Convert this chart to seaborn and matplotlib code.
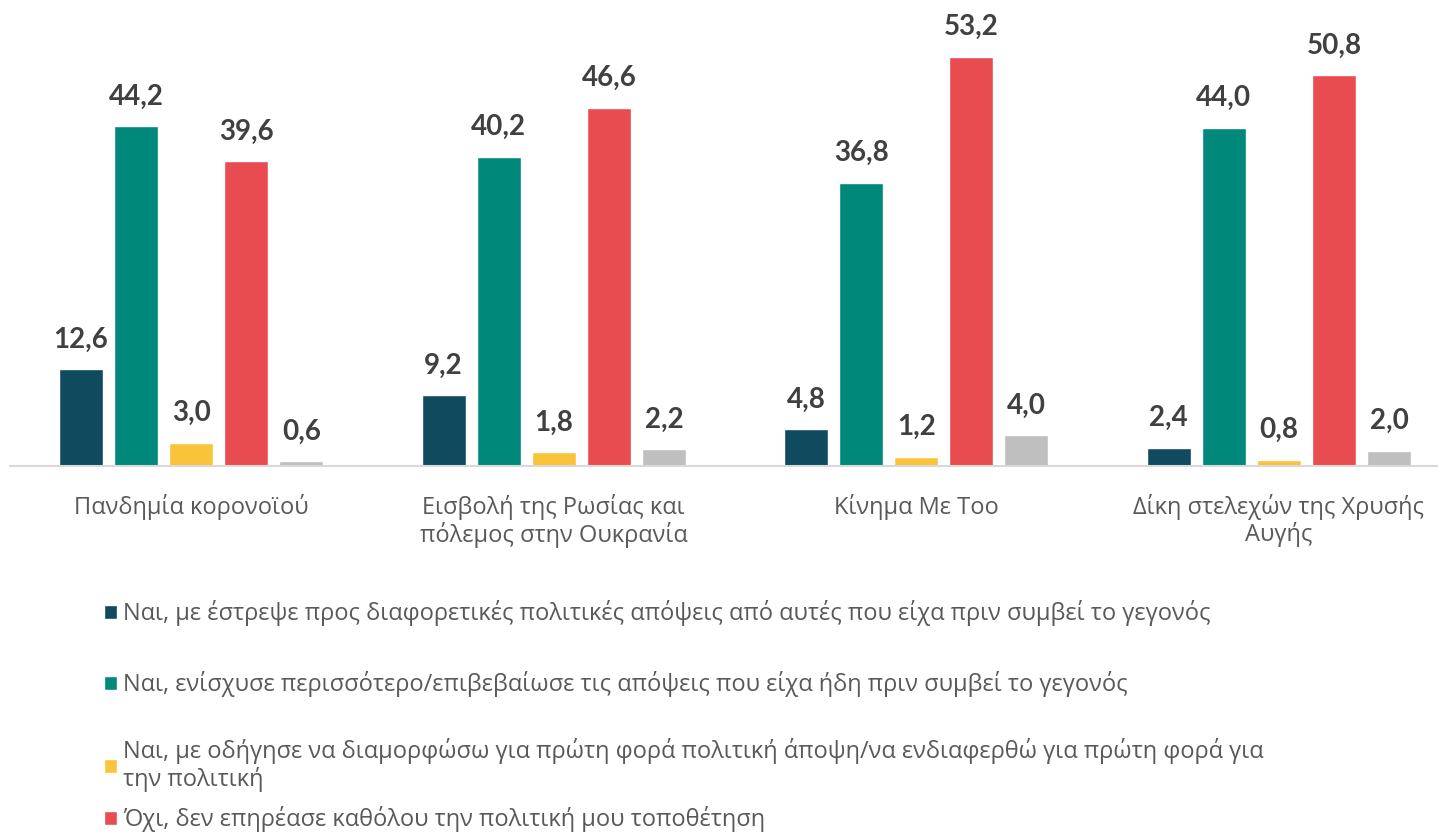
import matplotlib.pyplot as plt
import pandas as pd
import seaborn as sns
from matplotlib.patches import Patch

# data
events = [
    "Πανδημία κορονοϊού",
    "Εισβολή της Ρωσίας και\nπόλεμος στην Ουκρανία",
    "Κίνημα Με Τοο",
    "Δίκη στελεχών της Χρυσής\nΑυγής",
]
answers = [
    "Ναι, με έστρεψε προς διαφορετικές πολιτικές απόψεις από αυτές που είχα πριν συμβεί το γεγονός",
    "Ναι, ενίσχυσε περισσότερο/επιβεβαίωσε τις απόψεις που είχα ήδη πριν συμβεί το γεγονός",
    "Ναι, με οδήγησε να διαμορφώσω για πρώτη φορά πολιτική άποψη/να ενδιαφερθώ για πρώτη φορά για\nτην πολιτική",
    "Όχι, δεν επηρέασε καθόλου την πολιτική μου τοποθέτηση",
    "Δεν ξέρω/Δεν απαντώ",
]
changed = [12.6, 9.2, 4.8, 2.4]
reinforced = [44.2, 40.2, 36.8, 44.0]
first_time = [3.0, 1.8, 1.2, 0.8]
not_at_all = [39.6, 46.6, 53.2, 50.8]
dont_know = [0.6, 2.2, 4.0, 2.0]

colors = ["#0F4A5F", "#00897A", "#F9C43A", "#E84C50", "#BFBFBF"]

series = [changed, reinforced, first_time, not_at_all, dont_know]
rows = []
for answer, vals in zip(answers, series):
    for event, v in zip(events, vals):
        rows.append({"event": event, "answer": answer, "value": v})
df = pd.DataFrame(rows)

sns.set_style("white")
plt.rcParams["font.family"] = ["Lato", "DejaVu Sans"]
text_font = ["Open Sans", "DejaVu Sans"]

fig = plt.figure(figsize=(14.38, 8.36), dpi=100)
ax = fig.add_axes([10 / 1438, 370 / 836, 1450 / 1438, 466 / 836])

sns.barplot(
    data=df, x="event", y="value", hue="answer", hue_order=answers,
    palette=colors, saturation=1, width=0.76, gap=0.2, legend=False, ax=ax,
)

for container in ax.containers:
    labels = [f"{v:.1f}".replace(".", ",") for v in container.datavalues]
    ax.bar_label(container, labels=labels, padding=12, fontsize=20,
                 fontweight="bold", color="#404040")

ax.set_ylim(0, 60.6)
ax.set_xlim(-0.5, 3.5)
ax.set_xlabel("")
ax.set_ylabel("")
ax.set_yticks([])
ax.tick_params(axis="x", length=0, pad=20, labelsize=17, labelcolor="#595959")
for lbl in ax.get_xticklabels():
    lbl.set_family(text_font)
    lbl.set_linespacing(1.1)
for side in ["top", "right", "left"]:
    ax.spines[side].set_visible(False)
ax.spines["bottom"].set_color("#D9D9D9")
ax.spines["bottom"].set_linewidth(1.5)

# legend entries stacked like the original (uneven spacing)
legend_y = [613, 684, 765, 819]
for answer, color, y in zip(answers[:4], colors[:4], legend_y):
    fig.legend(
        handles=[Patch(facecolor=color)], labels=[answer],
        loc="center left", bbox_to_anchor=(90 / 1438, 1 - y / 836),
        frameon=False, prop={"family": text_font, "size": 17},
        labelcolor="#595959", borderpad=0.1,
        handlelength=0.55, handleheight=0.55, handletextpad=0.25,
    )

fig.savefig("out.png", dpi=100)
